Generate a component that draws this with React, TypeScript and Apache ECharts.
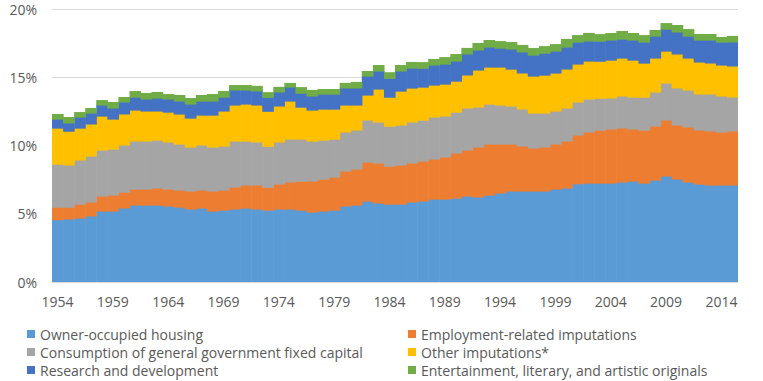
import React, { useEffect, useRef } from "react";
import * as echarts from "echarts";

const years: string[] = [];
for (let y = 1954; y <= 2015; y++) years.push(String(y));

const ownerOccupied = [
  4.57, 4.62, 4.69, 4.84, 5.2, 5.2, 5.42, 5.64, 5.64, 5.64, 5.57, 5.49, 5.35, 5.42, 5.2, 5.27, 5.35, 5.42,
  5.35, 5.27, 5.35, 5.35, 5.27, 5.13, 5.2, 5.27, 5.57, 5.64, 5.93, 5.79, 5.71, 5.71, 5.86, 5.93, 6.08, 6.08,
  6.15, 6.3, 6.23, 6.37, 6.52, 6.67, 6.67, 6.67, 6.67, 6.81, 6.89, 7.2, 7.25, 7.25, 7.25, 7.33, 7.4, 7.25,
  7.47, 7.77, 7.55, 7.33, 7.18, 7.11, 7.11, 7.11,
];
const employmentRelated = [
  0.92, 0.87, 1.02, 1.02, 1.1, 1.17, 1.17, 1.17, 1.17, 1.25, 1.24, 1.25, 1.32, 1.32, 1.47, 1.47, 1.61, 1.69,
  1.76, 1.68, 1.83, 1.98, 2.12, 2.27, 2.34, 2.42, 2.56, 2.64, 2.86, 2.93, 2.78, 2.86, 2.86, 2.93, 2.93, 3.08,
  3.3, 3.37, 3.66, 3.74, 3.59, 3.44, 3.3, 3.15, 3.22, 3.3, 3.44, 3.57, 3.74, 3.88, 3.96, 3.96, 3.81, 3.88,
  3.96, 4.1, 3.96, 4.03, 3.96, 3.96, 3.88, 3.96,
];
const govFixedCapital = [
  3.15, 3.08, 3.23, 3.37, 3.37, 3.37, 3.45, 3.52, 3.52, 3.51, 3.45, 3.37, 3.22, 3.3, 3.22, 3.22, 3.37, 3.22,
  3.15, 3.0, 3.08, 3.15, 3.08, 2.93, 2.86, 2.78, 2.86, 2.86, 3.08, 3.0, 2.93, 2.93, 3.0, 3.0, 3.08, 3.0,
  3.0, 3.08, 2.93, 2.93, 2.86, 2.78, 2.71, 2.56, 2.49, 2.42, 2.42, 2.42, 2.42, 2.34, 2.27, 2.34, 2.34, 2.42,
  2.49, 2.71, 2.71, 2.71, 2.64, 2.71, 2.64, 2.49,
];
const otherImputations = [
  2.64, 2.49, 2.34, 2.35, 2.49, 2.2, 2.27, 2.27, 2.2, 2.13, 2.19, 2.2, 2.12, 2.19, 2.34, 2.57, 2.64, 2.71,
  2.71, 2.56, 2.64, 2.78, 2.34, 2.27, 2.27, 2.2, 1.98, 1.83, 1.83, 2.42, 2.12, 2.49, 2.49, 2.42, 2.34, 2.34,
  2.27, 2.42, 2.71, 2.71, 2.78, 2.71, 2.64, 2.71, 2.78, 2.78, 2.86, 2.78, 2.78, 2.71, 2.78, 2.78, 2.71, 2.49,
  2.49, 2.34, 2.49, 2.34, 2.34, 2.27, 2.27, 2.27,
];
const researchDevelopment = [
  0.66, 0.59, 0.81, 0.8, 0.81, 0.81, 0.88, 0.95, 0.88, 0.95, 0.96, 0.95, 1.03, 1.03, 1.03, 1.02, 1.1, 1.03,
  1.03, 1.03, 1.03, 1.03, 1.03, 1.03, 1.1, 1.1, 1.25, 1.25, 1.39, 1.32, 1.39, 1.47, 1.47, 1.39, 1.47, 1.47,
  1.47, 1.54, 1.47, 1.47, 1.39, 1.47, 1.54, 1.54, 1.61, 1.61, 1.61, 1.61, 1.47, 1.47, 1.47, 1.39, 1.47, 1.54,
  1.61, 1.61, 1.61, 1.61, 1.61, 1.68, 1.68, 1.76,
];
const entertainmentOriginals = [
  0.37, 0.44, 0.36, 0.37, 0.36, 0.44, 0.36, 0.44, 0.44, 0.44, 0.36, 0.44, 0.44, 0.44, 0.51, 0.44, 0.36, 0.36,
  0.37, 0.37, 0.37, 0.29, 0.44, 0.44, 0.37, 0.37, 0.37, 0.44, 0.37, 0.44, 0.44, 0.44, 0.44, 0.44, 0.44, 0.51,
  0.51, 0.44, 0.51, 0.51, 0.51, 0.51, 0.51, 0.51, 0.51, 0.51, 0.59, 0.51, 0.59, 0.51, 0.51, 0.59, 0.51, 0.51,
  0.44, 0.44, 0.51, 0.51, 0.44, 0.44, 0.37, 0.44,
];

const seriesNames = [
  "Owner-occupied housing",
  "Employment-related imputations",
  "Consumption of general government fixed capital",
  "Other imputations*",
  "Research and development",
  "Entertainment, literary, and artistic originals",
];
const seriesData = [
  ownerOccupied,
  employmentRelated,
  govFixedCapital,
  otherImputations,
  researchDevelopment,
  entertainmentOriginals,
];
const colors = ["#5B9BD5", "#ED7D31", "#A5A5A5", "#FFC000", "#4472C4", "#70AD47"];

const FONT = "'Open Sans', sans-serif";
const TEXT_COLOR = "#595959";

export default function App() {
  const ref = useRef<HTMLDivElement>(null);
  useEffect(() => {
    if (!ref.current) return;
    const chart = echarts.init(ref.current, undefined, { renderer: "svg" });
    const legendText = { fontFamily: FONT, fontSize: 14, color: TEXT_COLOR, lineHeight: 18 };

    // Build stacked [index, base, top] triples from the series arrays
    const running = years.map(() => 0);
    const stacked = seriesData.map((arr) =>
      arr.map((v, j) => {
        const base = running[j];
        running[j] = base + v;
        return [j, base, base + v];
      })
    );
    const lastIdx = years.length - 1;

    chart.setOption({
      animation: false,
      color: colors,
      textStyle: { fontFamily: FONT },
      grid: { left: 52, right: 25, top: 9, bottom: 99, containLabel: false },
      legend: [
        {
          data: [seriesNames[0], seriesNames[2], seriesNames[4]],
          orient: "vertical",
          left: 27,
          top: 325,
          icon: "rect",
          itemWidth: 8,
          itemHeight: 8,
          itemGap: 0,
          padding: 0,
          textStyle: legendText,
        },
        {
          data: [seriesNames[1], seriesNames[3], seriesNames[5]],
          orient: "vertical",
          left: 408,
          top: 325,
          icon: "rect",
          itemWidth: 8,
          itemHeight: 8,
          itemGap: 0,
          padding: 0,
          textStyle: legendText,
        },
      ],
      xAxis: {
        type: "category",
        data: years,
        boundaryGap: true,
        axisLine: { show: true, lineStyle: { color: "#D9D9D9", width: 1 } },
        axisTick: { show: false },
        axisLabel: {
          interval: 4,
          margin: 12,
          fontFamily: FONT,
          fontSize: 14,
          color: TEXT_COLOR,
        },
      },
      yAxis: {
        type: "value",
        min: 0,
        max: 20,
        interval: 5,
        axisLine: { show: false },
        axisTick: { show: false },
        splitLine: { lineStyle: { color: "#D9D9D9", width: 1 } },
        axisLabel: {
          formatter: "{value}%",
          margin: 15,
          fontFamily: FONT,
          fontSize: 14,
          color: TEXT_COLOR,
        },
      },
      series: seriesNames.map((name, i) => ({
        name,
        type: "custom",
        data: stacked[i],
        encode: { x: 0, y: [1, 2] },
        itemStyle: { color: colors[i] },
        emphasis: { disabled: true },
        z: 2 + i,
        renderItem: (params: any, api: any) => {
          const idx = api.value(0);
          const base = api.value(1);
          const top = api.value(2);
          const pTop = api.coord([idx, top]);
          const pBase = api.coord([idx, base]);
          const w = api.size([1, 0])[0];
          const extraW = idx === lastIdx ? 0 : 0.6;
          const extraH = i === 0 ? 0 : 0.6;
          return {
            type: "rect",
            shape: {
              x: pTop[0] - w / 2,
              y: pTop[1],
              width: w + extraW,
              height: pBase[1] - pTop[1] + extraH,
            },
            style: { fill: colors[i] },
          };
        },
      })),
    });
    return () => chart.dispose();
  }, []);
  return (
    <div
      ref={ref}
      style={{ position: "absolute", left: 0, top: 0, width: 763, height: 381 }}
    />
  );
}
